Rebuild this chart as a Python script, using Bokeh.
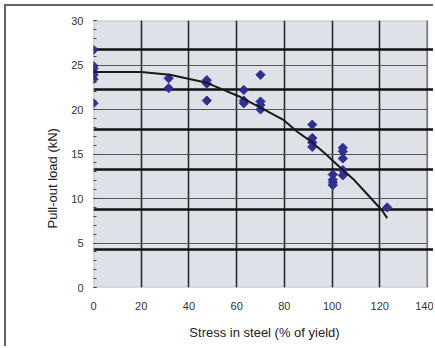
import math
from bokeh.plotting import figure
from bokeh.models import Range1d, FixedTicker, Title, BoxAnnotation
from bokeh.core.properties import value
from bokeh.embed import file_html
from bokeh.resources import INLINE

# Measured pull-out tests
stress = [0, 0, 0, 0, 0, 0, 0,
          31.5, 31.5,
          47.5, 47.5, 47.5,
          63, 63, 63,
          70, 70, 70, 70,
          91.7, 91.7, 91.7, 91.7,
          100.3, 100.3, 100.3, 100.3,
          104.5, 104.5, 104.5, 104.5, 104.5,
          123.1]
load = [26.7, 24.9, 24.6, 24.2, 23.9, 23.4, 20.7,
        23.5, 22.4,
        23.3, 22.9, 21.0,
        22.2, 21.0, 20.7,
        23.9, 20.9, 20.5, 20.0,
        18.3, 16.8, 16.3, 15.8,
        12.7, 12.1, 11.8, 11.5,
        15.7, 15.3, 14.5, 13.2, 12.6,
        9.0]

# Fitted trend curve
curve_x = [0, 20, 32, 47.5, 51, 61.6, 70, 79.8, 85.4, 91.7, 97.3, 103.5, 109.2, 113.3, 121, 123.1]
curve_y = [24.2, 24.2, 23.9, 23.0, 22.6, 21.4, 20.2, 18.8, 17.5, 16.3, 15.0, 13.45, 12.1, 10.9, 8.65, 7.8]

# Overlaid secondary scale (bleed-through of a second chart)
sec_levels = [1, 2, 3, 4, 5, 6]
sec_labels = ["1", "2", "3", "4", "5", "6"]

x_ticks = [0, 20, 40, 60, 80, 100, 120, 140]
y_ticks = [0, 5, 10, 15, 20, 25, 30]

X_MAX, Y_MAX = 140, 30
X_EDGE = 143.35          # frame runs on to the window edge (chart is cut off there)
X_SEC_END = 142.3        # where the overlay lines stop and their labels begin

FONT = "Liberation Sans"

p = figure(width=429, height=342, output_backend="svg", toolbar_location=None,
           x_range=Range1d(0, X_EDGE), y_range=Range1d(0, Y_MAX),
           min_border_left=87, min_border_right=0, min_border_top=14, min_border_bottom=61)
p.extra_y_ranges = {"sec": Range1d(0.049, 6.725)}

p.background_fill_color = "white"
p.border_fill_color = "white"
p.outline_line_color = None
p.styles = {"border-left": "2px solid #666666", "border-top": "2px solid #666666",
            "margin-left": "4px", "margin-top": "4px"}

# plot area fill
p.add_layout(BoxAnnotation(left=0, right=X_MAX, bottom=0, top=Y_MAX, fill_color="#dee1e7",
                           fill_alpha=1, line_color=None, level="image"))

# grid
p.xgrid.ticker = FixedTicker(ticks=x_ticks)
p.xgrid.grid_line_color = "#2a2a2a"
p.xgrid.grid_line_width = 1.6
p.ygrid.ticker = FixedTicker(ticks=y_ticks)
p.ygrid.grid_line_color = "#555555"
p.ygrid.grid_line_width = 1

# cover grid lines right of the plot area
p.add_layout(BoxAnnotation(left=X_MAX, fill_color="white", fill_alpha=1, line_color=None,
                           level="underlay"))
# plot area border
p.add_layout(BoxAnnotation(left=0, right=X_MAX, bottom=0, top=Y_MAX, fill_alpha=0,
                           line_color="#333333", line_width=1.5, level="underlay"))

# axes
p.xaxis.ticker = FixedTicker(ticks=x_ticks)
p.xaxis.major_tick_line_color = None
p.xaxis.minor_tick_line_color = None
p.xaxis.major_label_standoff = 8
p.xaxis.axis_label = "Stress in steel (% of yield)"
p.xaxis.axis_label_standoff = 12
p.xaxis.axis_line_color = None

p.yaxis.ticker = FixedTicker(ticks=y_ticks, minor_ticks=list(range(0, 31)))
p.yaxis.major_tick_in = 3
p.yaxis.major_tick_out = 0
p.yaxis.minor_tick_in = 3
p.yaxis.minor_tick_out = 0
p.yaxis.major_tick_line_color = "#444444"
p.yaxis.minor_tick_line_color = "#444444"
p.yaxis.major_label_standoff = 10
p.yaxis.axis_line_color = None

for ax in (p.xaxis, p.yaxis):
    ax.major_label_text_font = FONT
    ax.major_label_text_font_size = "11px"
    ax.major_label_text_color = "#333333"
    ax.axis_label_text_font = FONT
    ax.axis_label_text_font_size = "13px"
    ax.axis_label_text_font_style = "normal"
    ax.axis_label_text_color = "#222222"

# y title (sits below the frame centre, as in the original)
p.add_layout(Title(text="Pull-out load (kN)", align="left", offset=59,
                   text_font=FONT, text_font_size="13px", text_font_style="normal",
                   text_color="#222222", standoff=18), "left")

# secondary overlay lines and their (cut off) scale at the right edge
p.segment(x0=[0] * len(sec_levels), x1=[X_SEC_END] * len(sec_levels),
          y0=sec_levels, y1=sec_levels, y_range_name="sec",
          line_color="#111111", line_width=2.5)
p.text(x=[X_SEC_END] * len(sec_levels), y=sec_levels, text=sec_labels, y_range_name="sec",
       text_align="left", text_baseline="middle", text_font=value(FONT),
       text_font_size="11px", text_color="#333333")

# data
p.scatter(stress, load, marker="square", angle=math.pi / 4, size=6.5,
          fill_color="#2e3192", line_color="#2e3192")
p.line(curve_x, curve_y, line_color="#1a1a1a", line_width=2)

open("out.html", "w").write(file_html(p, INLINE))
